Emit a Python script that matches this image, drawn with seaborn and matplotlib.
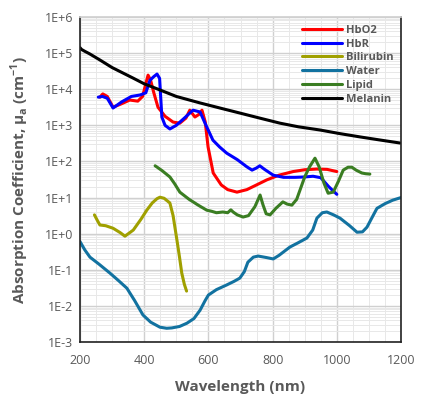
import numpy as np
import pandas as pd
import seaborn as sns
import matplotlib
matplotlib.use("Agg")
import matplotlib.pyplot as plt
from matplotlib.ticker import FixedLocator, FuncFormatter, LogLocator, NullFormatter

# ---- data (wavelength nm, log10 absorption coefficient) ----
hbo2_x = [262, 271, 285, 303, 330, 355, 380, 395, 405, 412, 420, 430, 443, 465, 490, 511, 530, 542, 558, 570, 580, 590, 599, 615, 640, 660, 689, 720, 750, 782, 820, 864, 900, 938, 970, 1000]
hbo2_y = [3.78, 3.87, 3.80, 3.50, 3.60, 3.70, 3.67, 3.80, 4.15, 4.39, 4.25, 3.90, 3.50, 3.25, 3.09, 3.06, 3.20, 3.42, 3.23, 3.30, 3.42, 3.10, 2.40, 1.68, 1.35, 1.22, 1.15, 1.22, 1.35, 1.49, 1.62, 1.72, 1.77, 1.79, 1.78, 1.72]

hbr_x = [257, 270, 285, 303, 330, 360, 387, 405, 418, 430, 440, 448, 455, 465, 480, 500, 525, 552, 574, 590, 614, 635, 657, 690, 720, 736, 750, 760, 775, 802, 834, 870, 900, 926, 950, 975, 1000]
hbr_y = [3.78, 3.80, 3.75, 3.48, 3.65, 3.80, 3.84, 3.90, 4.25, 4.35, 4.42, 4.30, 3.23, 3.00, 2.90, 3.00, 3.20, 3.42, 3.37, 3.05, 2.59, 2.40, 2.23, 2.05, 1.85, 1.76, 1.82, 1.88, 1.78, 1.62, 1.56, 1.56, 1.57, 1.59, 1.55, 1.30, 1.09]

bili_x = [245, 255, 262, 280, 303, 325, 340, 366, 390, 408, 425, 440, 449, 462, 480, 490, 502, 510, 517, 525, 532]
bili_y = [0.52, 0.35, 0.24, 0.22, 0.15, 0.03, -0.07, 0.10, 0.40, 0.65, 0.85, 0.97, 1.01, 0.98, 0.85, 0.50, -0.18, -0.65, -1.09, -1.40, -1.59]

water_x = [200, 215, 231, 260, 293, 320, 346, 370, 396, 420, 449, 470, 486, 510, 533, 555, 574, 590, 600, 625, 657, 680, 698, 712, 723, 740, 755, 780, 802, 820, 854, 880, 907, 925, 938, 955, 969, 990, 1010, 1040, 1063, 1080, 1094, 1110, 1125, 1150, 1175, 1200]
water_y = [-0.22, -0.45, -0.65, -0.85, -1.09, -1.30, -1.51, -1.85, -2.25, -2.45, -2.59, -2.62, -2.61, -2.57, -2.48, -2.35, -2.12, -1.85, -1.70, -1.55, -1.42, -1.32, -1.23, -1.05, -0.79, -0.65, -0.62, -0.66, -0.70, -0.60, -0.37, -0.25, -0.12, 0.10, 0.43, 0.58, 0.60, 0.52, 0.43, 0.22, 0.04, 0.05, 0.18, 0.45, 0.70, 0.83, 0.93, 1.00]

lipid_x = [434, 455, 480, 495, 511, 540, 570, 595, 610, 625, 645, 660, 670, 677, 690, 708, 725, 745, 761, 770, 780, 792, 810, 832, 845, 860, 875, 900, 915, 932, 945, 960, 973, 989, 1005, 1020, 1035, 1047, 1060, 1078, 1090, 1103]
lipid_y = [1.88, 1.75, 1.57, 1.38, 1.15, 0.95, 0.78, 0.65, 0.62, 0.58, 0.60, 0.58, 0.66, 0.60, 0.52, 0.46, 0.50, 0.75, 1.07, 0.80, 0.55, 0.52, 0.70, 0.88, 0.82, 0.79, 0.95, 1.57, 1.85, 2.09, 1.85, 1.40, 1.12, 1.15, 1.45, 1.76, 1.84, 1.84, 1.76, 1.68, 1.66, 1.65]

mel_x = [200, 205, 215, 230, 262, 300, 365, 400, 449, 500, 574, 640, 698, 760, 823, 880, 948, 1010, 1072, 1130, 1197]
mel_y = [5.15, 5.10, 5.05, 4.98, 4.81, 4.60, 4.31, 4.15, 3.98, 3.80, 3.62, 3.47, 3.34, 3.20, 3.06, 2.96, 2.87, 2.77, 2.68, 2.60, 2.51]

names = ["HbO2", "HbR", "Bilirubin", "Water", "Lipid", "Melanin"]
colors = ["#FF0000", "#0000FF", "#A0A000", "#1272A0", "#3A7D22", "#000000"]
series = [(hbo2_x, hbo2_y), (hbr_x, hbr_y), (bili_x, bili_y),
          (water_x, water_y), (lipid_x, lipid_y), (mel_x, mel_y)]

frames = []
for n, (xs, ys) in zip(names, series):
    frames.append(pd.DataFrame({"wl": xs, "mu": np.power(10.0, ys), "name": n}))
df = pd.concat(frames, ignore_index=True)

sns.set_theme(style="white")
plt.rcParams["font.family"] = ["Open Sans", "DejaVu Sans"]
plt.rcParams["mathtext.fontset"] = "custom"
plt.rcParams["mathtext.bf"] = "Open Sans:bold"
plt.rcParams["mathtext.rm"] = "Open Sans:bold"
plt.rcParams["lines.solid_joinstyle"] = "round"
plt.rcParams["lines.solid_capstyle"] = "round"

fig = plt.figure(figsize=(4.25, 3.99), dpi=100)
ax = fig.add_axes([80/425, 1 - 342/399, 321/425, 325/399])

ax.set_yscale("log")
sns.lineplot(data=df, x="wl", y="mu", hue="name", hue_order=names,
             palette=dict(zip(names, colors)), sort=False, estimator=None,
             units="name", linewidth=2.2, ax=ax)

ax.set_xlim(200, 1200)
ax.set_ylim(1e-3, 1e6)

ax.xaxis.set_major_locator(FixedLocator([200, 400, 600, 800, 1000, 1200]))
ax.xaxis.set_minor_locator(FixedLocator(list(range(250, 1200, 50))))
ax.yaxis.set_major_locator(FixedLocator([10.0**e for e in range(-3, 7)]))
ax.yaxis.set_major_formatter(FuncFormatter(lambda v, p: "1E%+d" % int(round(np.log10(v)))))
ax.yaxis.set_minor_locator(LogLocator(base=10, subs=np.arange(2, 10), numticks=50))
ax.yaxis.set_minor_formatter(NullFormatter())

ax.grid(which="major", color="#D0D0D0", linewidth=1.0)
ax.grid(which="minor", color="#E8E8E8", linewidth=0.7)
ax.set_axisbelow(True)

ax.tick_params(axis="both", which="major", direction="out", length=3, width=1,
               color="#333333", labelsize=9, labelcolor="#595959")
ax.tick_params(axis="both", which="minor", length=0)
ax.tick_params(axis="y", pad=2)
ax.tick_params(axis="x", pad=6)

for side in ["left", "bottom", "right"]:
    ax.spines[side].set_visible(True)
    ax.spines[side].set_color("#222222")
    ax.spines[side].set_linewidth(1.2)
ax.spines["top"].set_visible(True)
ax.spines["top"].set_color("#D0D0D0")

ax.set_xlabel("Wavelength (nm)", fontsize=11, fontweight="bold", color="#595959", labelpad=9)
ax.set_ylabel(r"Absorption Coefficient, μ$_\mathregular{a}$ (cm$^\mathregular{-1}$)",
              fontsize=11, fontweight="bold", color="#595959", labelpad=10)

leg = ax.legend(loc="upper right", frameon=False, fontsize=8, handlelength=3.6,
                handletextpad=0.3, labelspacing=0.25, borderaxespad=0.3,
                bbox_to_anchor=(1.0, 1.0))
for t in leg.get_texts():
    t.set_fontweight("bold")
    t.set_color("#595959")
for l in leg.get_lines():
    l.set_linewidth(2.2)

fig.savefig("out.png", dpi=100)
